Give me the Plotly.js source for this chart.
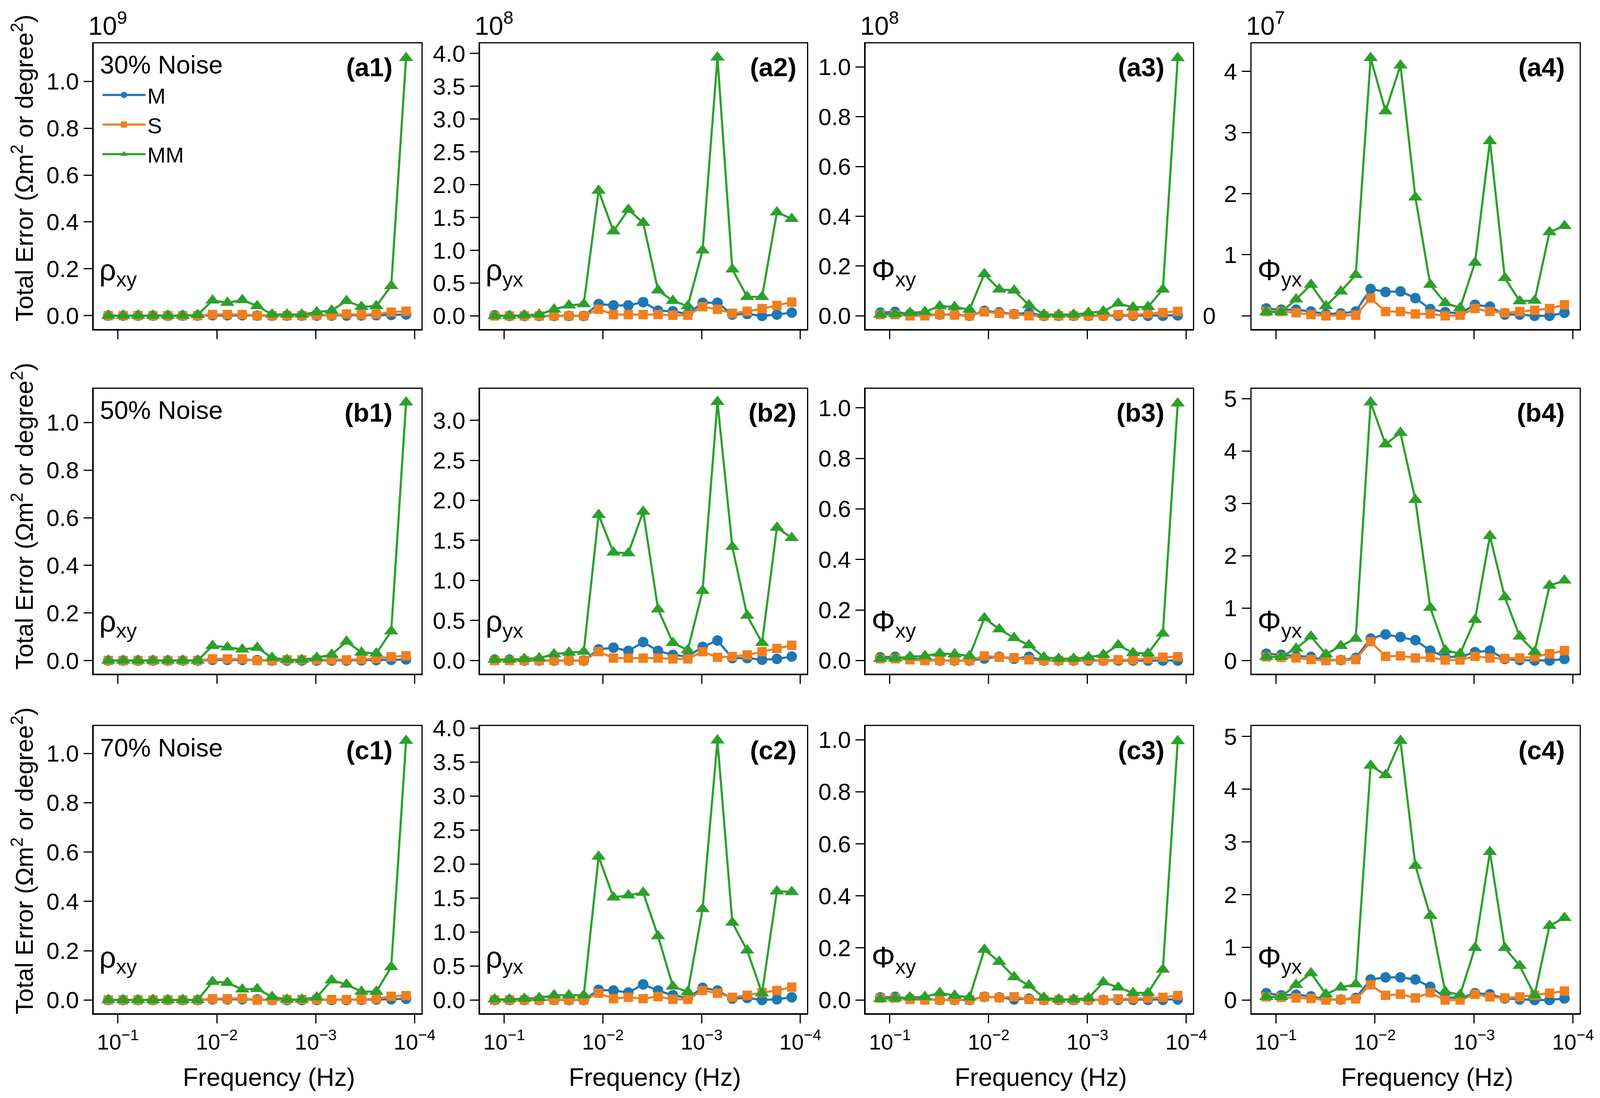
<!DOCTYPE html>
<html>
<head>
<meta charset="utf-8">
<script src="https://cdn.plot.ly/plotly-3.0.1.min.js"></script>
<style>
  html, body { margin: 0; padding: 0; background: #fff; overflow: hidden; }
  #chart { width: 100vw; height: 100vh; }
</style>
</head>
<body>
<div id="chart"></div>
<script>
// frequencies (Hz), same for every panel
const freqHz = [0.125, 0.08839, 0.0625, 0.04419, 0.03125, 0.02210, 0.015625, 0.01105, 0.0078125, 0.005524, 0.003906,
  0.002762, 0.001953, 0.001381, 0.0009766, 0.0006905, 0.0004883, 0.0003453, 0.0002441, 0.0001726, 0.0001221];

const xTickVals = [0.1, 0.01, 0.001, 0.0001];
const xTickText = ['10<sup>−1</sup>', '10<sup>−2</sup>', '10<sup>−3</sup>', '10<sup>−4</sup>'];

// 30% noise (values in units of 1e9, 1e8, 1e8, 1e7)
const a1M  = [0, 0, 0, 0, 0, 0, 0, 0.002, 0.002, 0.002, 0, 0, 0, 0, 0, 0, 0, 0.001, 0.002, 0.003, 0.005];
const a1S  = [0, 0, 0, 0, 0, 0, 0, 0.005, 0.005, 0.005, 0, 0, 0, 0, 0.002, 0.002, 0.007, 0.004, 0.007, 0.015, 0.019];
const a1MM = [0, 0, 0, 0, 0, 0, 0.003, 0.065, 0.055, 0.067, 0.041, 0.005, 0.005, 0.005, 0.015, 0.022, 0.063, 0.038, 0.041, 0.127, 1.10];

const a2M  = [0.01, 0, 0, 0, 0, 0, 0, 0.18, 0.16, 0.16, 0.21, 0.08, 0.07, 0.03, 0.20, 0.20, 0.02, 0.03, 0, 0.02, 0.05];
const a2S  = [0, 0, 0, 0, 0, 0, 0, 0.10, 0.02, 0.02, 0.02, 0.02, 0.01, 0.01, 0.14, 0.10, 0.04, 0.07, 0.11, 0.16, 0.21];
const a2MM = [0, 0, 0.01, 0.02, 0.10, 0.16, 0.18, 1.91, 1.29, 1.62, 1.42, 0.39, 0.23, 0.15, 1.00, 3.94, 0.71, 0.29, 0.29, 1.58, 1.48];

const a3M  = [0.013, 0.016, 0.007, 0.003, 0.005, 0.005, 0, 0.02, 0.014, 0.007, 0.012, 0, 0, 0, 0, 0, 0, 0, 0, 0, 0.002];
const a3S  = [0.005, 0.005, 0, 0, 0.005, 0.003, 0, 0.016, 0.01, 0.007, 0, 0, 0, 0, 0, 0, 0.005, 0.003, 0.009, 0.013, 0.018];
const a3MM = [0.005, 0.007, 0.012, 0.016, 0.039, 0.036, 0.025, 0.168, 0.106, 0.102, 0.043, 0.005, 0.005, 0.005, 0.012, 0.018, 0.050, 0.034, 0.036, 0.106, 1.036];

const a4M  = [0.12, 0.10, 0.10, 0.07, 0.03, 0.04, 0.07, 0.44, 0.39, 0.40, 0.29, 0.11, 0.06, 0.04, 0.18, 0.15, 0.02, 0.02, 0, 0, 0.05];
const a4S  = [0.07, 0.07, 0.05, 0.02, 0, 0.01, 0.01, 0.29, 0.07, 0.07, 0.03, 0.03, 0, 0.01, 0.12, 0.07, 0.05, 0.07, 0.09, 0.12, 0.18];
const a4MM = [0.06, 0.06, 0.27, 0.51, 0.16, 0.40, 0.67, 4.22, 3.35, 4.10, 1.94, 0.51, 0.21, 0.13, 0.87, 2.86, 0.62, 0.24, 0.25, 1.37, 1.47];

// 50% noise
const b1M  = [0, 0, 0, 0, 0, 0, 0, 0.003, 0.003, 0.003, 0.002, 0, 0, 0, 0, 0, 0, 0.001, 0.002, 0.003, 0.005];
const b1S  = [0, 0, 0, 0, 0, 0, 0, 0.007, 0.007, 0.007, 0, 0, 0.003, 0.003, 0.003, 0.003, 0.003, 0.005, 0.009, 0.016, 0.02];
const b1MM = [0, 0, 0, 0, 0, 0, 0, 0.062, 0.056, 0.047, 0.054, 0.012, 0.003, 0.003, 0.012, 0.025, 0.08, 0.034, 0.03, 0.123, 1.085];

const b2M  = [0.01, 0.01, 0, 0, 0, 0, 0, 0.14, 0.16, 0.12, 0.23, 0.12, 0.07, 0.05, 0.17, 0.25, 0.03, 0.03, 0.01, 0.02, 0.05];
const b2S  = [0, 0, 0, 0, 0, 0, 0, 0.11, 0.03, 0.03, 0.03, 0.03, 0.02, 0.02, 0.11, 0.04, 0.05, 0.07, 0.11, 0.15, 0.19];
const b2MM = [0.01, 0.01, 0.02, 0.03, 0.08, 0.10, 0.11, 1.82, 1.35, 1.34, 1.86, 0.64, 0.22, 0.13, 0.87, 3.23, 1.42, 0.56, 0.22, 1.66, 1.53];

const b3M  = [0.013, 0.015, 0.008, 0.003, 0, 0, 0, 0.008, 0.015, 0.007, 0.015, 0, 0, 0, 0, 0, 0, 0, 0, 0, 0];
const b3S  = [0.007, 0.007, 0.003, 0, 0, 0, 0, 0.018, 0.013, 0.011, 0.003, 0, 0, 0, 0.003, 0, 0.003, 0.003, 0.007, 0.013, 0.015];
const b3MM = [0.007, 0.008, 0.015, 0.018, 0.028, 0.025, 0.018, 0.168, 0.124, 0.089, 0.061, 0.013, 0.007, 0.007, 0.013, 0.023, 0.061, 0.030, 0.028, 0.107, 1.018];

const b4M  = [0.13, 0.11, 0.08, 0.07, 0.01, 0.01, 0.05, 0.42, 0.50, 0.45, 0.39, 0.19, 0.07, 0.07, 0.16, 0.19, 0.03, 0.01, 0, 0, 0.03];
const b4S  = [0.07, 0.06, 0.05, 0.02, 0, 0.01, 0.02, 0.36, 0.08, 0.09, 0.05, 0.06, 0.01, 0.01, 0.08, 0.05, 0.04, 0.05, 0.07, 0.13, 0.19];
const b4MM = [0.07, 0.07, 0.23, 0.46, 0.12, 0.28, 0.42, 4.93, 4.13, 4.35, 3.07, 1.01, 0.20, 0.13, 0.78, 2.38, 1.21, 0.46, 0.17, 1.43, 1.53];

// 70% noise
const c1M  = [0, 0, 0, 0, 0, 0, 0, 0.003, 0.003, 0.003, 0.002, 0, 0, 0, 0, 0, 0, 0.001, 0.002, 0.003, 0.005];
const c1S  = [0, 0, 0, 0, 0, 0, 0, 0.005, 0.005, 0.007, 0, 0, 0.002, 0.002, 0.002, 0.002, 0.002, 0.002, 0.005, 0.015, 0.018];
const c1MM = [0, 0, 0, 0, 0, 0, 0, 0.074, 0.070, 0.043, 0.045, 0.013, 0.002, 0.002, 0.011, 0.080, 0.063, 0.034, 0.034, 0.134, 1.051];

const c2M  = [0, 0, 0, 0, 0, 0, 0, 0.15, 0.14, 0.11, 0.23, 0.14, 0.07, 0.03, 0.18, 0.14, 0.02, 0.03, 0, 0.01, 0.04];
const c2S  = [0, 0, 0, 0, 0, 0, 0, 0.10, 0.02, 0.04, 0.02, 0.05, 0.01, 0.01, 0.14, 0.10, 0.04, 0.07, 0.11, 0.14, 0.19];
const c2MM = [0.01, 0.01, 0.02, 0.03, 0.07, 0.07, 0.07, 2.11, 1.51, 1.54, 1.58, 0.94, 0.20, 0.12, 1.34, 3.82, 1.14, 0.73, 0.10, 1.60, 1.59];

const c3M  = [0.01, 0.012, 0.005, 0.002, 0, 0, 0, 0.012, 0.01, 0.002, 0.005, 0, 0, 0, 0, 0, 0, 0, 0, 0, 0.002];
const c3S  = [0.007, 0.007, 0.002, 0, 0, 0, 0, 0.012, 0.009, 0.012, 0.002, 0, 0, 0, 0, 0, 0.004, 0.005, 0.007, 0.010, 0.017];
const c3MM = [0.004, 0.007, 0.010, 0.012, 0.027, 0.017, 0.010, 0.193, 0.147, 0.088, 0.056, 0.009, 0.002, 0.002, 0.007, 0.068, 0.048, 0.027, 0.027, 0.117, 0.995];

const c4M  = [0.13, 0.09, 0.10, 0.07, 0.01, 0.01, 0.04, 0.39, 0.43, 0.43, 0.39, 0.25, 0.05, 0.04, 0.13, 0.11, 0.03, 0.01, 0, 0, 0.03];
const c4S  = [0.06, 0.05, 0.04, 0.03, 0, 0.01, 0.02, 0.29, 0.09, 0.11, 0.04, 0.14, 0, 0, 0.11, 0.06, 0.04, 0.06, 0.09, 0.13, 0.17];
const c4MM = [0.06, 0.06, 0.29, 0.51, 0.11, 0.24, 0.30, 4.45, 4.27, 4.92, 2.55, 1.60, 0.16, 0.10, 0.99, 2.81, 0.99, 0.65, 0.09, 1.41, 1.56];

const noiseLabels = ['30% Noise', '50% Noise', '70% Noise'];
const compLabels = ['ρ<sub>xy</sub>', 'ρ<sub>yx</sub>', 'Φ<sub>xy</sub>', 'Φ<sub>yx</sub>'];
const exponents = [9, 8, 8, 7];

const panels = [
  ['a1', a1M, a1S, a1MM], ['a2', a2M, a2S, a2MM], ['a3', a3M, a3S, a3MM], ['a4', a4M, a4S, a4MM],
  ['b1', b1M, b1S, b1MM], ['b2', b2M, b2S, b2MM], ['b3', b3M, b3S, b3MM], ['b4', b4M, b4S, b4MM],
  ['c1', c1M, c1S, c1MM], ['c2', c2M, c2S, c2MM], ['c3', c3M, c3S, c3MM], ['c4', c4M, c4S, c4MM]
];

// geometry measured on the 4170x2810 reference, used as fractions
const REF_W = 4170, REF_H = 2810;
// the window may be narrower than asked, so draw at the size we actually get
const W = Math.min(window.innerWidth || REF_W, REF_W);
const H = Math.min(window.innerHeight || REF_H, REF_H);
const sx = W / REF_W;

const colPx = [[244, 1098], [1251, 2103], [2256, 3109], [3262, 4117]];
const rowPx = [[111, 842], [995, 1724], [1858, 2593]];
const yRanges = [
  [-0.057, 1.162], [-0.2, 4.154], [-0.053, 1.095], [-0.216, 4.459],
  [-0.055, 1.142], [-0.164, 3.393], [-0.052, 1.0755], [-0.25, 5.19],
  [-0.0535, 1.111], [-0.194, 4.031], [-0.051, 1.053], [-0.25, 5.20]
];
const yDtick = [0.2, 0.5, 0.2, 1];
const labelX = [0.915, 0.97, 0.915, 0.957];
const compY = [0.2, 0.177, 0.188];

const FONT = 'Liberation Sans, Arial, sans-serif';
const series = [
  { name: 'M', color: '#1f77b4', symbol: 'circle', size: 27 },
  { name: 'S', color: '#f07f1f', symbol: 'square', size: 24 },
  { name: 'MM', color: '#2ca02c', symbol: 'triangle-up', size: 32 }
];

const traces = [];
const layout = {
  width: W, height: H,
  margin: { l: 0, r: 0, t: 0, b: 0 },
  paper_bgcolor: '#fff', plot_bgcolor: '#fff',
  font: { family: FONT, size: 60, color: '#000' },
  showlegend: true,
  legend: {
    x: 262 / REF_W, y: 1 - 200 / REF_H, xanchor: 'left', yanchor: 'top',
    bgcolor: 'rgba(0,0,0,0)', font: { size: 56 }, itemwidth: 110,
    tracegroupgap: 0
  },
  annotations: []
};

panels.forEach((p, i) => {
  const row = Math.floor(i / 4), col = i % 4, n = i + 1;
  const xs = n === 1 ? '' : String(n);
  const xa = 'x' + xs, ya = 'y' + xs;

  [p[1], p[2], p[3]].forEach((vals, k) => {
    const s = series[k];
    traces.push({
      x: freqHz, y: vals, xaxis: xa, yaxis: ya,
      type: 'scatter', mode: 'lines+markers', name: s.name,
      showlegend: i === 0, legendgroup: s.name,
      line: { color: s.color, width: 5.5 },
      marker: { color: s.color, symbol: s.symbol, size: s.size, line: { width: 0 } },
      cliponaxis: false
    });
  });

  const axisCommon = {
    showline: true, mirror: true, linewidth: 3.5, linecolor: '#000',
    ticks: 'outside', ticklen: 22, tickwidth: 3, tickcolor: '#000',
    showgrid: false, zeroline: false, fixedrange: true,
    tickfont: { family: FONT, size: 60, color: '#000' }
  };

  layout['xaxis' + xs] = Object.assign({}, axisCommon, {
    domain: [colPx[col][0] / REF_W, colPx[col][1] / REF_W], anchor: ya,
    type: 'log', range: [-0.755, -4.067],
    tickmode: 'array', tickvals: xTickVals, ticktext: xTickText,
    showticklabels: row === 2,
    tickfont: { family: FONT, size: 56, color: '#000' }
  });

  const yax = Object.assign({}, axisCommon, {
    domain: [1 - rowPx[row][1] / REF_H, 1 - rowPx[row][0] / REF_H], anchor: xa,
    range: yRanges[i], tick0: 0, dtick: yDtick[col],
    tickformat: col === 3 ? 'd' : '.1f'
  });
  if (i === 3) {
    // in (a4) the zero label sits apart from the axis
    yax.tickmode = 'array';
    yax.tickvals = [0, 1, 2, 3, 4];
    yax.ticktext = ['', '1', '2', '3', '4'];
  }
  layout['yaxis' + xs] = yax;

  // panel tag
  layout.annotations.push({
    text: '<b>(' + p[0] + ')</b>', xref: xa + ' domain', yref: ya + ' domain',
    x: labelX[col], y: 0.917, xanchor: 'right', yanchor: 'middle',
    showarrow: false, font: { size: 67 }
  });
  // component label
  layout.annotations.push({
    text: compLabels[col], xref: xa + ' domain', yref: ya + ' domain',
    x: 0.015, y: compY[row], xanchor: 'left', yanchor: 'middle',
    showarrow: false, font: { size: 76 }
  });
  if (col === 0) {
    layout.annotations.push({
      text: noiseLabels[row], xref: xa + ' domain', yref: ya + ' domain',
      x: 0.017, y: 0.925, xanchor: 'left', yanchor: 'middle',
      showarrow: false, font: { size: 65 }
    });
  }
  if (row === 0) {
    layout.annotations.push({
      text: '10<sup>' + exponents[col] + '</sup>', xref: xa + ' domain', yref: ya + ' domain',
      x: 0, y: 1, xanchor: 'left', yanchor: 'bottom', xshift: -16 * sx, yshift: 6,
      showarrow: false, font: { size: 66 }
    });
  }
  if (row === 2) {
    layout.annotations.push({
      text: 'Frequency (Hz)', xref: xa + ' domain', yref: 'paper',
      x: 0.535, y: 1 - 2757 / REF_H, xanchor: 'center', yanchor: 'middle',
      showarrow: false, font: { size: 64 }
    });
  }
});

// stray zero label of (a4)
layout.annotations.push({
  text: '0', xref: 'x4 domain', yref: 'y4', x: 0, y: 0,
  xanchor: 'right', yanchor: 'middle', xshift: -92 * sx,
  showarrow: false, font: { size: 60 }
});

// y titles, one per row
const yTitleCenters = [430, 1321, 2203];
yTitleCenters.forEach(yc => {
  layout.annotations.push({
    text: 'Total Error (Ωm<sup>2</sup> or degree<sup>2</sup>)',
    xref: 'paper', yref: 'paper', x: 58 / REF_W, y: 1 - yc / REF_H,
    xanchor: 'center', yanchor: 'middle', textangle: -90,
    showarrow: false, font: { size: 63 }
  });
});

Plotly.newPlot('chart', traces, layout, { staticPlot: true, displayModeBar: false });
</script>
</body>
</html>
